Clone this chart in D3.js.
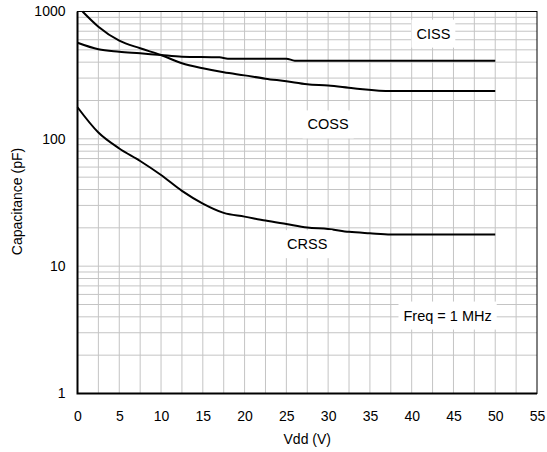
<!DOCTYPE html>
<html>
<head>
<meta charset="utf-8">
<script src="https://cdn.jsdelivr.net/npm/d3@7"></script>
<style>
  body { margin: 0; background: #fff; }
  text { font-family: "Liberation Sans", Arial, sans-serif; fill: #000; }
</style>
</head>
<body>
<div id="chart"></div>
<script>
// capacitance vs Vdd
var cissV = [0, 2.5, 5, 7.5, 10, 12.5, 17, 18, 25, 26, 50];
var cissC = [568, 505, 484, 470, 455, 442, 437, 426, 426, 411, 411];

var cossV = [0.6, 2.5, 5, 7.5, 10, 12.5, 15, 17.5, 20, 22.5, 25, 27.5, 30, 33, 37.5, 50];
var cossC = [1000, 760, 590, 514, 455, 392, 358, 333, 315, 297, 283, 268, 262, 250, 237, 237];

var crssV = [0, 2.5, 5, 7.5, 10, 12.5, 15, 17.5, 20, 22.5, 25, 27.5, 30, 32.5, 35, 37.5, 50];
var crssC = [177, 112, 84, 67, 52, 39, 31, 26.2, 24.5, 22.8, 21.4, 20.1, 19.6, 18.6, 18.1, 17.7, 17.7];

var xTicks = [0, 5, 10, 15, 20, 25, 30, 35, 40, 45, 50, 55];
var yTicks = [1, 10, 100, 1000];

var curveLabels = [
  { text: "CISS", v: 42.6, c: 671 },
  { text: "COSS", v: 30, c: 130 },
  { text: "CRSS", v: 27.5, c: 14.9 },
  { text: "Freq = 1 MHz", v: 44.3, c: 4.1 }
];

const margin = {top: 11.5, right: 10, bottom: 58.5, left: 77.5},
      width = 547 - margin.left - margin.right,
      height = 452 - margin.top - margin.bottom;

const svg = d3.select("#chart")
  .append("svg")
  .attr("width", 547)
  .attr("height", 452)
  .append("g")
  .attr("transform", `translate(${margin.left}, ${margin.top})`);

const x = d3.scaleLinear().domain([0, 55]).range([0, width]);
const y = d3.scaleLog().domain([1, 1000]).range([height, 0]);

// grid: every 2.5 V, and the log minors
const gridX = d3.range(2.5, 55, 2.5);
const gridY = [];
[1, 10, 100].forEach(d => { for (var k = 1; k < 10; k++) if (d * k > 1) gridY.push(d * k); });

svg.append("g")
  .selectAll("line")
  .data(gridX)
  .join("line")
  .attr("x1", d => x(d)).attr("x2", d => x(d))
  .attr("y1", 0).attr("y2", height)
  .attr("stroke", "#c4c4c4")
  .attr("stroke-width", 1);

svg.append("g")
  .selectAll("line")
  .data(gridY)
  .join("line")
  .attr("x1", 0).attr("x2", width)
  .attr("y1", d => y(d)).attr("y2", d => y(d))
  .attr("stroke", "#c4c4c4")
  .attr("stroke-width", 1);

// curves
const line = d3.line()
  .x(d => x(d[0]))
  .y(d => y(d[1]))
  .curve(d3.curveMonotoneX);

[[cissV, cissC], [cossV, cossC], [crssV, crssC]].forEach(s => {
  svg.append("path")
    .datum(d3.zip(s[0], s[1]))
    .attr("fill", "none")
    .attr("stroke", "#000")
    .attr("stroke-width", 2)
    .attr("d", line);
});

// labels with white boxes over the grid
curveLabels.forEach(l => {
  var g = svg.append("g");
  var rect = g.append("rect").attr("fill", "#fff");
  var t = g.append("text")
    .attr("x", x(l.v))
    .attr("y", y(l.c))
    .attr("text-anchor", "middle")
    .attr("dy", "0.35em")
    .style("font-size", "14.5px")
    .text(l.text);
  var bb = t.node().getBBox();
  rect.attr("x", bb.x - 5).attr("y", bb.y - 6)
    .attr("width", bb.width + 10).attr("height", bb.height + 12);
});

// frame
svg.append("rect")
  .attr("width", width).attr("height", height)
  .attr("fill", "none")
  .attr("stroke", "#000")
  .attr("stroke-width", 1);
svg.append("path")
  .attr("d", `M0,0V${height}H${width}`)
  .attr("fill", "none")
  .attr("stroke", "#000")
  .attr("stroke-width", 2);

// tick labels
svg.append("g")
  .call(d3.axisBottom(x).tickValues(xTicks).tickSize(0).tickPadding(18))
  .attr("transform", `translate(0, ${height})`)
  .call(g => g.select(".domain").remove())
  .selectAll("text")
  .style("font-size", "14px")
  .style("font-family", "Liberation Sans, Arial, sans-serif");

svg.append("g")
  .call(d3.axisLeft(y).tickValues(yTicks).tickFormat(d3.format("d")).tickSize(0).tickPadding(12))
  .call(g => g.select(".domain").remove())
  .selectAll("text")
  .style("font-size", "14px")
  .style("font-family", "Liberation Sans, Arial, sans-serif");

svg.append("text")
  .attr("x", width / 2)
  .attr("y", height + 50)
  .attr("text-anchor", "middle")
  .style("font-size", "14px")
  .text("Vdd (V)");

svg.append("text")
  .attr("transform", `translate(${-margin.left + 22}, 190) rotate(-90)`)
  .attr("text-anchor", "middle")
  .style("font-size", "14px")
  .text("Capacitance (pF)");
</script>
</body>
</html>
